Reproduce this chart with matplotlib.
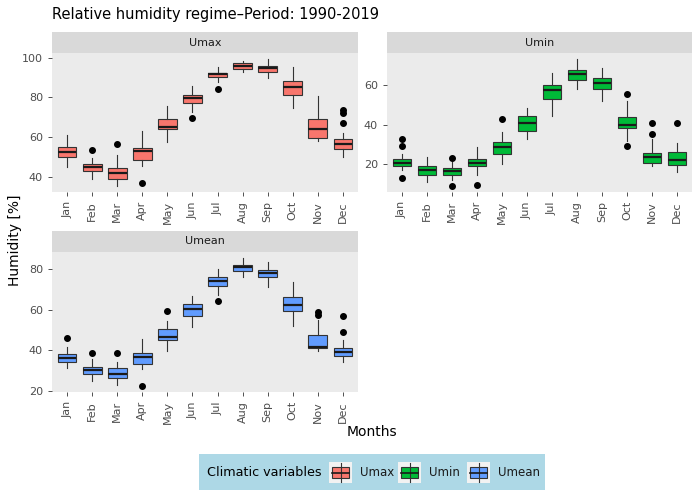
import matplotlib
matplotlib.use("Agg")
import matplotlib.pyplot as plt
from matplotlib.patches import Rectangle

months = ["Jan", "Feb", "Mar", "Apr", "May", "Jun",
          "Jul", "Aug", "Sep", "Oct", "Nov", "Dec"]

# box statistics: q1, median, q3, lower whisker, upper whisker
umax_q1 = [49.9, 42.7, 38.6, 48.5, 63.8, 76.9, 90.1, 94.4, 93.0, 81.3, 59.4, 53.9]
umax_med = [52.4, 44.6, 41.7, 52.7, 65.0, 79.6, 91.7, 95.8, 94.7, 85.4, 63.8, 56.5]
umax_q3 = [54.8, 46.3, 44.2, 54.4, 69.2, 81.3, 92.5, 97.3, 95.9, 88.1, 69.2, 59.0]
umax_lo = [44.8, 38.6, 35.4, 45.4, 57.5, 72.6, 87.6, 92.7, 90.0, 74.7, 58.0, 49.9]
umax_hi = [61.1, 49.3, 50.9, 62.8, 75.7, 85.6, 95.2, 98.6, 99.2, 95.2, 80.8, 61.8]
umax_out = [[], [53.3], [56.3], [36.6], [], [69.6], [84.0], [], [], [], [], [73.7, 72.3, 67.2]]

umin_q1 = [19.2, 14.8, 14.5, 19.0, 25.5, 37.1, 53.1, 62.7, 58.3, 38.2, 20.8, 19.5]
umin_med = [21.0, 17.0, 16.5, 21.0, 29.0, 40.9, 57.8, 65.5, 61.3, 40.1, 24.0, 22.3]
umin_q3 = [22.7, 19.2, 18.0, 22.8, 31.2, 44.3, 60.2, 67.7, 63.8, 43.8, 25.7, 26.2]
umin_lo = [17.0, 11.1, 12.0, 14.5, 20.3, 32.9, 44.3, 58.0, 52.1, 32.1, 19.2, 16.2]
umin_hi = [25.4, 23.7, 21.2, 28.7, 36.6, 48.3, 66.4, 73.1, 68.9, 52.1, 32.9, 30.7]
umin_out = [[32.7, 29.2, 13.0], [], [23.5, 9.3], [9.6], [42.8], [], [], [], [],
            [55.8, 29.2], [40.8, 35.2], [40.8]]

umean_q1 = [34.0, 28.3, 26.6, 33.1, 45.1, 56.7, 71.7, 79.0, 76.2, 59.2, 41.3, 37.4]
umean_med = [36.4, 30.4, 28.3, 36.9, 46.8, 60.3, 74.0, 81.0, 78.2, 62.5, 41.8, 39.3]
umean_q3 = [38.0, 31.9, 31.1, 38.5, 50.4, 62.8, 76.2, 82.1, 79.7, 66.3, 47.6, 41.3]
umean_lo = [31.1, 24.8, 23.1, 30.7, 39.7, 51.6, 67.4, 76.0, 71.4, 52.2, 39.7, 34.4]
umean_hi = [41.8, 35.7, 34.4, 45.6, 54.2, 66.8, 80.2, 85.3, 83.3, 73.7, 55.0, 45.0]
umean_out = [[46.0], [38.5], [38.5], [22.6], [59.2], [], [64.3], [], [], [],
             [58.7, 57.5], [56.9, 48.9]]

variables = ["Umax", "Umin", "Umean"]
colors = {"Umax": "#F8766D", "Umin": "#00BA38", "Umean": "#619CFF"}
yticks = {"Umax": [40, 60, 80, 100], "Umin": [20, 40, 60], "Umean": [20, 40, 60, 80]}

W, H = 700, 499
fig = plt.figure(figsize=(7, 4.99), dpi=100)


def px_axes(x0, y0, x1, y1):
    return fig.add_axes([x0 / W, 1 - y1 / H, (x1 - x0) / W, (y1 - y0) / H])


def draw_panel(name, q1, med, q3, lo, hi, out, box):
    x0, y0, x1, y1 = box
    # strip
    sax = px_axes(x0, y0 - 21, x1, y0)
    sax.set_facecolor("#D9D9D9")
    sax.set_xticks([])
    sax.set_yticks([])
    for s in sax.spines.values():
        s.set_visible(False)
    sax.text(0.5, 0.5, name, ha="center", va="center", fontsize=8, color="#1A1A1A")

    ax = px_axes(x0, y0, x1, y1)
    ax.set_facecolor("#EBEBEB")
    stats = []
    for i in range(12):
        stats.append(dict(q1=q1[i], med=med[i], q3=q3[i], whislo=lo[i],
                          whishi=hi[i], fliers=out[i]))
    ax.bxp(stats, positions=range(1, 13), widths=0.75, patch_artist=True,
           showcaps=False,
           boxprops=dict(facecolor=colors[name], edgecolor="#333333", linewidth=0.8),
           medianprops=dict(color="#1A1A1A", linewidth=1.6),
           whiskerprops=dict(color="#333333", linewidth=0.8),
           flierprops=dict(marker="o", markerfacecolor="black", markeredgecolor="black",
                           markersize=4))
    allv = lo + hi + [v for o in out for v in o]
    vmin, vmax = min(allv), max(allv)
    pad = (vmax - vmin) * 0.05
    ax.set_ylim(vmin - pad, vmax + pad)
    ax.set_xlim(0.4, 12.6)
    ax.set_yticks(yticks[name])
    ax.set_xticks(range(1, 13))
    ax.set_xticklabels(months, rotation=90)
    ax.tick_params(labelsize=8, labelcolor="#4D4D4D", color="#333333", length=3, width=0.6)
    for s in ax.spines.values():
        s.set_visible(False)
    return ax


draw_panel("Umax", umax_q1, umax_med, umax_q3, umax_lo, umax_hi, umax_out, (52, 53, 358, 192))
draw_panel("Umin", umin_q1, umin_med, umin_q3, umin_lo, umin_hi, umin_out, (387, 53, 692, 192))
draw_panel("Umean", umean_q1, umean_med, umean_q3, umean_lo, umean_hi, umean_out, (52, 252, 358, 392))

fig.text(52 / W, 1 - 14 / H, "Relative humidity regime\u2013Period: 1990-2019",
         ha="left", va="center", fontsize=10.5, color="black")
fig.text(15 / W, 1 - 240 / H, "Humidity [%]", rotation=90, ha="center", va="center",
         fontsize=10)
fig.text(372 / W, 1 - 432 / H, "Months", ha="center", va="center", fontsize=10)

# legend
lax = px_axes(199, 454, 545, 490)
lax.set_xlim(0, 346)
lax.set_ylim(36, 0)
lax.set_facecolor("#ADD8E6")
lax.set_xticks([])
lax.set_yticks([])
for s in lax.spines.values():
    s.set_visible(False)
lax.text(8, 19, "Climatic variables", ha="left", va="center", fontsize=9.2)
key_x = [130, 199, 268]
for kx, name in zip(key_x, variables):
    lax.add_patch(Rectangle((kx, 8), 23, 21, facecolor="#F2F2F2", edgecolor="none"))
    lax.plot([kx + 11.5, kx + 11.5], [9, 28], color="#333333", lw=0.8)
    lax.add_patch(Rectangle((kx + 3, 13), 17, 11, facecolor=colors[name],
                            edgecolor="#333333", lw=0.8))
    lax.plot([kx + 3, kx + 20], [18.5, 18.5], color="#1A1A1A", lw=1.2)
    lax.text(kx + 31, 19, name, ha="left", va="center", fontsize=8.5, color="#1A1A1A")

fig.savefig("out.png", dpi=100)
